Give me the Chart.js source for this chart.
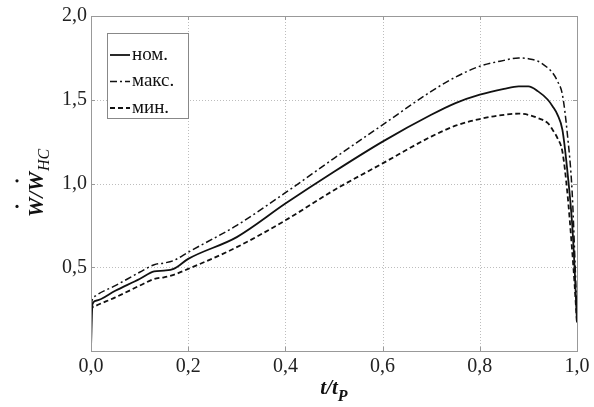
<!DOCTYPE html>
<html lang="ru">
<head>
    <meta charset="UTF-8">
    <title>W/Whc от t/tP</title>
    <script src="https://cdn.jsdelivr.net/npm/chart.js"></script>
    <style>
        html, body { margin: 0; padding: 0; background: #fff; }
        #wrap { width: 594px; height: 407px; }
    </style>
</head>
<body>
<div id="wrap"><canvas id="chart"></canvas></div>
<script>
// относительное время t/tP
const tVals = [0, 0.003, 0.01, 0.05, 0.1, 0.13, 0.15, 0.17, 0.2, 0.3, 0.4, 0.5, 0.6, 0.7, 0.75, 0.8, 0.85, 0.88, 0.9, 0.92, 0.94, 0.95, 0.96, 0.97, 0.98, 0.99, 0.995, 1.0];
// номинальный режим
const nomVals = [0.02, 0.28, 0.30, 0.36, 0.43, 0.475, 0.48, 0.49, 0.55, 0.68, 0.88, 1.07, 1.25, 1.41, 1.48, 1.53, 1.565, 1.58, 1.58, 1.55, 1.50, 1.46, 1.41, 1.32, 1.08, 0.76, 0.50, 0.17];
// максимальный
const maxVals = [0.27, 0.31, 0.33, 0.39, 0.47, 0.515, 0.525, 0.54, 0.59, 0.75, 0.945, 1.15, 1.35, 1.55, 1.635, 1.70, 1.735, 1.75, 1.745, 1.73, 1.69, 1.66, 1.61, 1.53, 1.30, 0.95, 0.60, 0.20];
// минимальный
const minVals = [0.24, 0.26, 0.27, 0.32, 0.39, 0.43, 0.44, 0.455, 0.49, 0.62, 0.78, 0.96, 1.12, 1.28, 1.345, 1.385, 1.41, 1.417, 1.41, 1.39, 1.36, 1.32, 1.27, 1.19, 0.95, 0.60, 0.40, 0.16];

const legendLabels = ['ном.', 'макс.', 'мин.'];
const xTicks = [0, 0.2, 0.4, 0.6, 0.8, 1.0];
const yTicks = [0.5, 1.0, 1.5, 2.0];

const SERIF = '"Liberation Serif", "Times New Roman", serif';

function pts(ys) {
    return tVals.map((t, i) => ({ x: t, y: ys[i] }));
}

function fmt(v) {
    return v.toFixed(1).replace('.', ',');
}

const lineStyles = [
    { dash: [], width: 1.8 },
    { dash: [7, 3, 2, 3], width: 1.5 },
    { dash: [5, 3], width: 1.8 }
];

// пунктирная сетка под линиями
const grid = {
    id: 'grid',
    beforeDatasetsDraw(chart) {
        const ctx = chart.ctx;
        const a = chart.chartArea;
        const sx = chart.scales.x, sy = chart.scales.y;
        ctx.save();
        ctx.strokeStyle = '#bdbdbd';
        ctx.lineWidth = 1;
        ctx.setLineDash([1, 2]);
        xTicks.forEach(v => {
            const p = Math.round(sx.getPixelForValue(v)) + 0.5;
            ctx.beginPath();
            ctx.moveTo(p, a.top);
            ctx.lineTo(p, a.bottom);
            ctx.stroke();
        });
        yTicks.forEach(v => {
            const p = Math.round(sy.getPixelForValue(v)) + 0.5;
            ctx.beginPath();
            ctx.moveTo(a.left, p);
            ctx.lineTo(a.right, p);
            ctx.stroke();
        });
        // маленькие засечки у рамки
        ctx.setLineDash([]);
        ctx.strokeStyle = '#999';
        xTicks.forEach(v => {
            const p = Math.round(sx.getPixelForValue(v)) + 0.5;
            ctx.beginPath();
            ctx.moveTo(p, a.bottom); ctx.lineTo(p, a.bottom - 4);
            ctx.moveTo(p, a.top); ctx.lineTo(p, a.top + 4);
            ctx.stroke();
        });
        yTicks.forEach(v => {
            const p = Math.round(sy.getPixelForValue(v)) + 0.5;
            ctx.beginPath();
            ctx.moveTo(a.left, p); ctx.lineTo(a.left + 4, p);
            ctx.moveTo(a.right, p); ctx.lineTo(a.right - 4, p);
            ctx.stroke();
        });
        ctx.restore();
    }
};

// рамка, легенда и подписи осей
const decor = {
    id: 'decor',
    afterDraw(chart) {
        const ctx = chart.ctx;
        const a = chart.chartArea;
        ctx.save();
        ctx.strokeStyle = '#999';
        ctx.lineWidth = 1;
        ctx.strokeRect(a.left + 0.5, a.top + 0.5, a.right - a.left, a.bottom - a.top);

        // легенда
        const bx = a.left + 16, by = a.top + 17, bw = 81, bh = 85;
        ctx.fillStyle = '#fff';
        ctx.fillRect(bx, by, bw, bh);
        ctx.strokeStyle = '#888';
        ctx.strokeRect(bx + 0.5, by + 0.5, bw, bh);
        ctx.font = '19px ' + SERIF;
        ctx.textBaseline = 'middle';
        legendLabels.forEach((lbl, i) => {
            const yy = by + 22 + i * 26.5;
            ctx.strokeStyle = '#111';
            ctx.lineWidth = lineStyles[i].width;
            ctx.setLineDash(lineStyles[i].dash);
            ctx.beginPath();
            ctx.moveTo(bx + 3, yy);
            ctx.lineTo(bx + 23, yy);
            ctx.stroke();
            ctx.setLineDash([]);
            ctx.fillStyle = '#111';
            ctx.fillText(lbl, bx + 25, yy);
        });

        // подпись оси X: t/tP
        ctx.fillStyle = '#111';
        ctx.textBaseline = 'alphabetic';
        ctx.font = 'italic bold 21px ' + SERIF;
        const main = 't/t';
        const mw = ctx.measureText(main).width;
        ctx.font = 'italic bold 16px ' + SERIF;
        const sw = ctx.measureText('P').width;
        let x0 = (a.left + a.right) / 2 - (mw + sw) / 2;
        ctx.font = 'italic bold 21px ' + SERIF;
        ctx.fillText(main, x0, 394);
        ctx.font = 'italic bold 16px ' + SERIF;
        ctx.fillText('P', x0 + mw, 401);

        // подпись оси Y: Ẇ/Ẇ_HC (повёрнута)
        ctx.translate(43, (a.top + a.bottom) / 2);
        ctx.rotate(-Math.PI / 2);
        ctx.font = 'italic bold 22px ' + SERIF;
        const w1 = ctx.measureText('W').width;
        const sl = ctx.measureText('/').width;
        ctx.font = 'italic 16px ' + SERIF;
        const hw = ctx.measureText('HC').width;
        let px = -(w1 * 2 + sl + hw) / 2;
        ctx.font = 'italic bold 22px ' + SERIF;
        ctx.fillText('W', px, 0);
        ctx.beginPath();
        ctx.arc(px + w1 / 2 + 1, -26, 1.6, 0, Math.PI * 2);
        ctx.fill();
        px += w1;
        ctx.fillText('/', px, 0);
        px += sl;
        ctx.fillText('W', px, 0);
        ctx.beginPath();
        ctx.arc(px + w1 / 2 + 1, -26, 1.6, 0, Math.PI * 2);
        ctx.fill();
        px += w1;
        ctx.font = 'italic 16px ' + SERIF;
        ctx.fillText('HC', px + 1, 6);
        ctx.restore();
    }
};

const ctx = document.getElementById('chart').getContext('2d');
new Chart(ctx, {
    type: 'scatter',
    data: {
        datasets: [nomVals, maxVals, minVals].map((ys, i) => ({
            label: legendLabels[i],
            data: pts(ys),
            showLine: true,
            borderColor: '#111',
            borderWidth: lineStyles[i].width,
            borderDash: lineStyles[i].dash,
            pointRadius: 0,
            cubicInterpolationMode: 'monotone'
        }))
    },
    options: {
        responsive: true,
        maintainAspectRatio: false,
        animation: false,
        layout: { padding: { left: 0, top: 15, right: 17, bottom: 0 } },
        plugins: {
            legend: { display: false },
            tooltip: { enabled: false }
        },
        scales: {
            x: {
                type: 'linear',
                min: 0,
                max: 1,
                afterBuildTicks(scale) {
                    scale.ticks = xTicks.map(v => ({ value: v }));
                },
                afterFit(scale) { scale.height = 56; },
                ticks: {
                    callback: v => fmt(v),
                    color: '#222',
                    padding: 4,
                    maxRotation: 0,
                    font: { family: SERIF, size: 20 }
                },
                grid: { display: false, drawTicks: false },
                border: { display: false }
            },
            y: {
                min: 0,
                max: 2,
                afterBuildTicks(scale) {
                    scale.ticks = yTicks.map(v => ({ value: v }));
                },
                afterFit(scale) { scale.width = 91; },
                ticks: {
                    callback: v => fmt(v),
                    color: '#222',
                    padding: 4,
                    font: { family: SERIF, size: 20 }
                },
                grid: { display: false, drawTicks: false },
                border: { display: false }
            }
        }
    },
    plugins: [grid, decor]
});
</script>
</body>
</html>
